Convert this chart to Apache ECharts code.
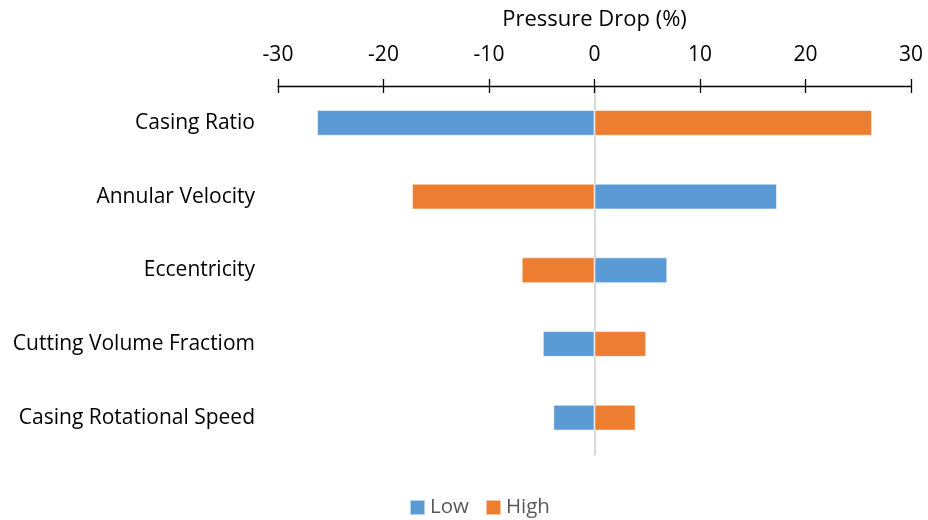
<!DOCTYPE html>
<html>
<head>
<meta charset="utf-8">
<script src="https://cdn.jsdelivr.net/npm/echarts@6/dist/echarts.min.js"></script>
<style>
  html, body { margin: 0; padding: 0; background: #fff; }
  #chart { width: 928px; height: 520px; }
</style>
</head>
<body>
<div id="chart"></div>
<script>
// Sensitivity of pressure drop to each parameter (tornado layout)
const categories = [
  'Casing Ratio',
  'Annular Velocity',
  'Eccentricity',
  'Cutting Volume Fractiom',
  'Casing Rotational Speed'
];
const lowValues  = [-26.3, 17.3, 6.9, -4.9, -3.9];
const highValues = [26.3, -17.3, -6.9, 4.9, 3.9];
const axisTitle = 'Pressure Drop (%)';
const seriesNames = ['Low', 'High'];

const FONT = 'Open Sans';
const chart = echarts.init(document.getElementById('chart'));

const barStyle = (color) => ({
  color: color,
  borderColor: 'rgba(255,255,255,0.55)',
  borderWidth: 1
});

chart.setOption({
  animation: false,
  grid: { left: 278, right: 17, top: 86, height: 368.5, containLabel: false },
  legend: {
    data: seriesNames,
    top: 492,
    left: 404,
    itemWidth: 15,
    itemHeight: 15,
    itemGap: 16,
    icon: 'rect',
    textStyle: { fontFamily: FONT, fontSize: 20.5, color: '#595959' }
  },
  xAxis: [
    {
      type: 'value',
      position: 'top',
      min: -30, max: 30, interval: 10,
      name: axisTitle,
      nameLocation: 'middle',
      nameGap: 55,
      nameTextStyle: { fontFamily: FONT, fontSize: 22, color: '#000' },
      axisLine: { show: true, lineStyle: { color: '#000', width: 1.3 } },
      axisTick: { show: true, length: 7, lineStyle: { color: '#000', width: 1.3 } },
      axisLabel: { fontFamily: FONT, fontSize: 21, color: '#000', margin: 20 },
      splitLine: { show: false }
    },
    {
      // inward half of the crossing tick marks
      type: 'value',
      position: 'top',
      min: -30, max: 30, interval: 10,
      axisLine: { show: false },
      axisTick: { show: true, inside: true, length: 7, lineStyle: { color: '#000', width: 1.3 } },
      axisLabel: { show: false },
      splitLine: { show: false }
    }
  ],
  yAxis: {
    type: 'category',
    data: categories,
    inverse: true,
    axisLine: { show: true, onZero: true, lineStyle: { color: '#d9d9d9', width: 2 } },
    axisTick: { show: false },
    axisLabel: { fontFamily: FONT, fontSize: 21, color: '#000', margin: 23 }
  },
  series: [
    {
      name: seriesNames[0],
      type: 'bar',
      stack: 'total',
      barWidth: '35%',
      data: lowValues,
      itemStyle: barStyle('#5B9BD5')
    },
    {
      name: seriesNames[1],
      type: 'bar',
      stack: 'total',
      barWidth: '35%',
      data: highValues,
      itemStyle: barStyle('#ED7D31')
    }
  ]
});
</script>
</body>
</html>
